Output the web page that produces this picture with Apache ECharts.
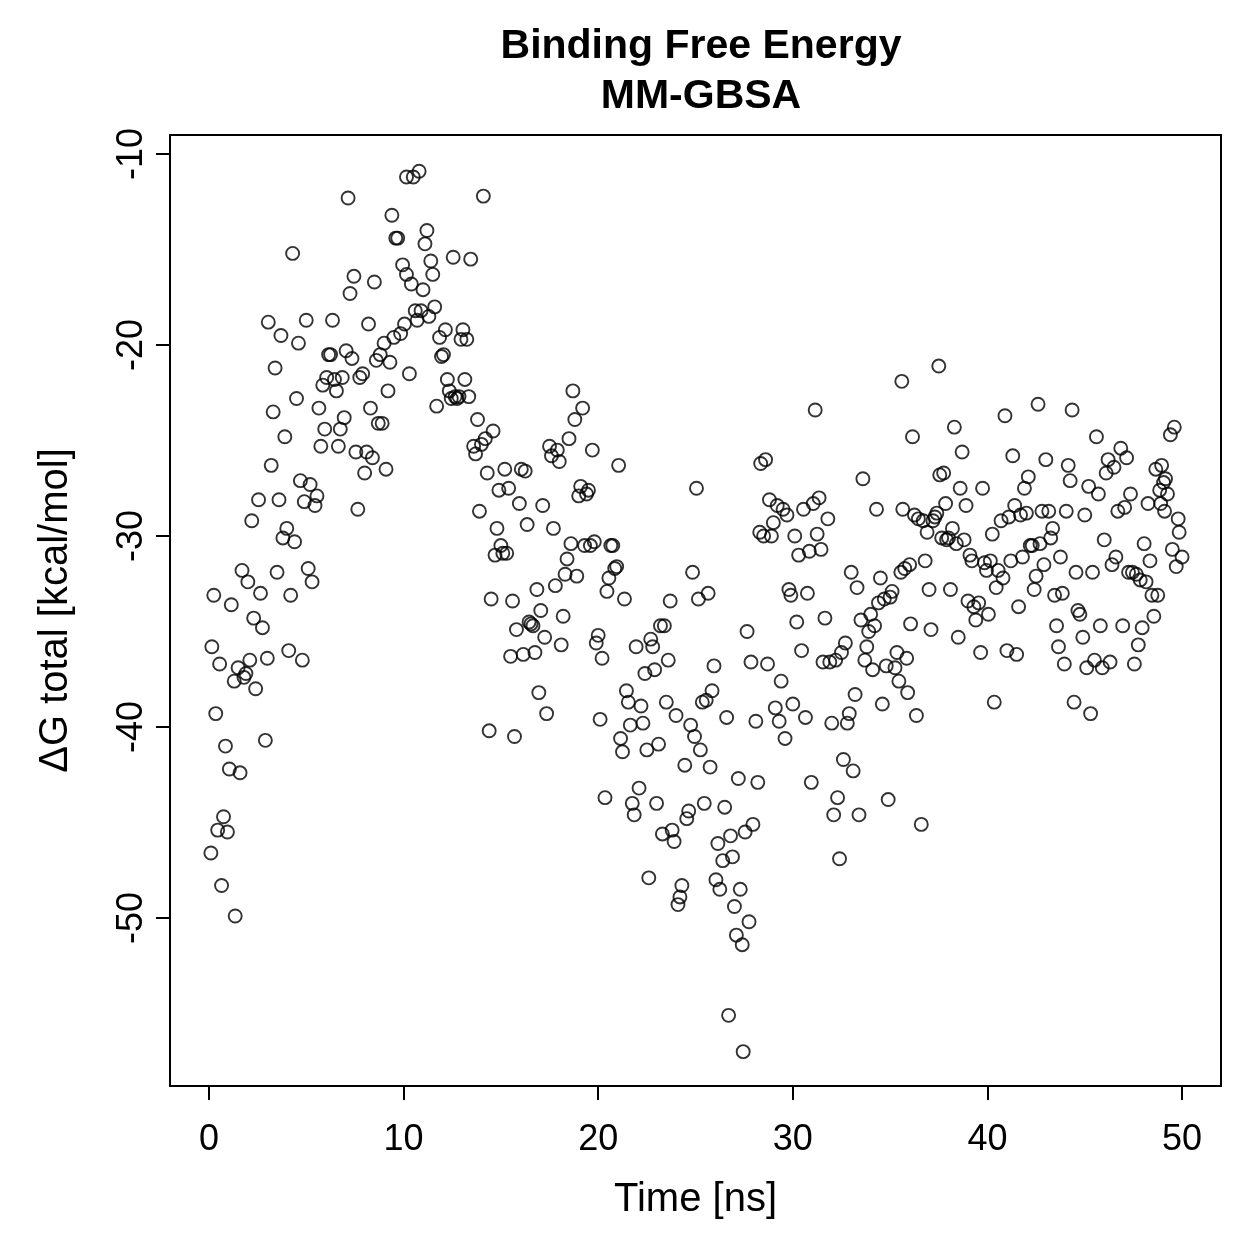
<!DOCTYPE html>
<html>
<head>
<meta charset="utf-8">
<script src="https://cdn.jsdelivr.net/npm/echarts@6/dist/echarts.min.js"></script>
<style>
  html, body { margin: 0; padding: 0; background: #fff; }
  #main { width: 1259px; height: 1259px; }
</style>
</head>
<body>
<div id="main"></div>
<script>
// values
const timeNs = [
  0.1, 0.15, 0.25, 0.35, 0.45, 0.55, 0.65, 0.75, 0.85, 0.95, 1.05, 1.15, 1.3, 1.35, 1.5, 1.6, 1.7, 1.8, 1.9, 2.0,
  2.1, 2.2, 2.3, 2.4, 2.55, 2.65, 2.75, 2.9, 3.0, 3.05, 3.2, 3.3, 3.4, 3.5, 3.6, 3.7, 3.8, 3.9, 4.0, 4.1,
  4.2, 4.3, 4.4, 4.5, 4.6, 4.7, 4.8, 4.9, 5.0, 5.1, 5.2, 5.3, 5.45, 5.55, 5.65, 5.75, 5.85, 5.95, 6.05, 6.15,
  6.25, 6.35, 6.45, 6.55, 6.65, 6.75, 6.85, 6.95, 7.05, 7.15, 7.25, 7.35, 7.45, 7.55, 7.65, 7.75, 7.9, 8.0, 8.1, 8.2,
  8.3, 8.4, 8.5, 8.6, 8.7, 8.8, 8.9, 9.0, 9.1, 9.2, 9.3, 9.4, 9.5, 9.6, 9.7, 9.85, 9.95, 10.05, 10.15, 10.15,
  10.3, 10.4, 10.5, 10.6, 10.7, 10.8, 10.9, 11.0, 11.1, 11.2, 11.3, 11.4, 11.5, 11.6, 11.7, 11.85, 11.95, 12.05, 12.15, 12.25,
  12.35, 12.45, 12.55, 12.65, 12.75, 12.85, 12.95, 13.05, 13.15, 13.25, 13.35, 13.45, 13.6, 13.7, 13.8, 13.9, 14.0, 14.1, 14.2, 14.3,
  14.4, 14.5, 14.6, 14.7, 14.8, 14.9, 15.0, 15.1, 15.2, 15.3, 15.4, 15.5, 15.6, 15.7, 15.8, 15.95, 16.05, 16.15, 16.25, 16.35,
  16.45, 16.55, 16.65, 16.75, 16.85, 16.95, 17.05, 17.15, 17.25, 17.35, 17.5, 17.6, 17.7, 17.8, 17.9, 18.0, 18.1, 18.2, 18.3, 18.4,
  18.5, 18.6, 18.7, 18.8, 18.9, 19.0, 19.1, 19.2, 19.3, 19.4, 19.5, 19.6, 19.7, 19.8, 19.9, 20.0, 20.1, 20.2, 20.35, 20.45,
  20.55, 20.65, 20.75, 20.85, 20.95, 21.05, 21.15, 21.25, 21.35, 21.45, 21.55, 21.65, 21.75, 21.85, 21.95, 22.1, 22.2, 22.3, 22.4, 22.5,
  22.6, 22.7, 22.8, 22.9, 23.0, 23.1, 23.2, 23.3, 23.4, 23.5, 23.6, 23.7, 23.8, 23.9, 24.0, 24.1, 24.2, 24.3, 24.45, 24.55,
  24.65, 24.75, 24.85, 24.95, 25.05, 25.15, 25.25, 25.35, 25.45, 25.55, 25.65, 25.75, 25.85, 25.95, 26.05, 26.15, 26.25, 26.4, 26.5, 26.6,
  26.7, 26.8, 26.9, 27.0, 27.1, 27.2, 27.3, 27.4, 27.45, 27.55, 27.65, 27.75, 27.85, 27.95, 28.1, 28.2, 28.3, 28.35, 28.5, 28.6,
  28.7, 28.8, 28.9, 29.0, 29.1, 29.2, 29.3, 29.4, 29.5, 29.6, 29.7, 29.8, 29.9, 30.0, 30.1, 30.2, 30.3, 30.45, 30.55, 30.65,
  30.75, 30.85, 30.95, 31.05, 31.15, 31.25, 31.35, 31.45, 31.55, 31.65, 31.8, 31.9, 32.0, 32.1, 32.2, 32.3, 32.4, 32.5, 32.6, 32.7,
  32.8, 32.9, 33.0, 33.1, 33.2, 33.3, 33.4, 33.5, 33.6, 33.7, 33.8, 33.9, 34.0, 34.1, 34.2, 34.3, 34.4, 34.5, 34.6, 34.7,
  34.8, 34.9, 35.0, 35.1, 35.25, 35.35, 35.45, 35.55, 35.6, 35.65, 35.75, 35.85, 35.9, 36.0, 36.05, 36.15, 36.25, 36.35, 36.45, 36.6,
  36.7, 36.8, 36.9, 37.0, 37.1, 37.2, 37.3, 37.4, 37.5, 37.55, 37.65, 37.75, 37.85, 37.9, 38.0, 38.1, 38.2, 38.3, 38.4, 38.5,
  38.6, 38.7, 38.8, 38.9, 39.0, 39.1, 39.2, 39.3, 39.4, 39.55, 39.65, 39.75, 39.85, 39.95, 40.05, 40.15, 40.25, 40.35, 40.45, 40.55,
  40.7, 40.8, 40.9, 41.0, 41.1, 41.2, 41.3, 41.4, 41.5, 41.6, 41.7, 41.8, 41.9, 42.0, 42.1, 42.2, 42.3, 42.4, 42.5, 42.6,
  42.7, 42.8, 42.9, 43.0, 43.15, 43.25, 43.35, 43.45, 43.55, 43.65, 43.75, 43.85, 43.95, 44.05, 44.15, 44.25, 44.35, 44.45, 44.55, 44.65,
  44.75, 44.9, 45.0, 45.1, 45.2, 45.3, 45.4, 45.5, 45.6, 45.7, 45.8, 45.9, 46.0, 46.1, 46.2, 46.3, 46.4, 46.5, 46.6, 46.7,
  46.85, 46.95, 47.05, 47.15, 47.25, 47.35, 47.45, 47.55, 47.65, 47.75, 47.85, 47.95, 48.05, 48.15, 48.25, 48.35, 48.45, 48.55, 48.65, 48.75,
  48.85, 48.9, 48.95, 49.05, 49.1, 49.15, 49.25, 49.4, 49.5, 49.6, 49.7, 49.8, 49.85, 50.0
];
const dGtotal = [
  -46.6, -35.8, -33.1, -39.3, -45.4, -36.7, -48.3, -44.7, -41.0, -45.5, -42.2, -33.6, -37.6, -49.9, -36.9, -42.4, -31.8, -37.4, -37.2, -32.4,
  -36.5, -29.2, -34.3, -38.0, -28.1, -33.0, -34.8, -40.7, -36.4, -18.8, -26.3, -23.5, -21.2, -31.9, -28.1, -19.5, -30.1, -24.8, -29.6, -36.0,
  -33.1, -15.2, -30.3, -22.8, -19.9, -27.1, -36.5, -28.2, -18.7, -31.7, -27.3, -32.4, -28.4, -27.9, -23.3, -25.3, -22.1, -24.4, -21.7, -20.5,
  -20.5, -18.7, -21.8, -22.4, -25.3, -24.4, -21.7, -23.8, -20.3, -12.3, -17.3, -20.7, -16.4, -25.6, -28.6, -21.7, -21.5, -26.7, -25.6, -18.9,
  -23.3, -25.9, -16.7, -20.8, -24.1, -20.5, -24.1, -19.9, -26.5, -22.4, -20.9, -13.2, -19.6, -14.4, -14.4, -19.4, -15.8, -18.9, -16.3, -11.2,
  -21.5, -16.8, -11.2, -18.2, -18.7, -10.9, -18.2, -17.1, -14.7, -14.0, -18.5, -15.6, -16.3, -18.0, -23.2, -19.6, -20.6, -20.5, -19.2, -21.8,
  -22.4, -22.8, -15.4, -22.7, -22.8, -22.7, -19.7, -19.2, -21.8, -19.7, -22.7, -15.5, -25.3, -25.7, -23.9, -28.7, -25.2, -12.2, -24.9, -26.7,
  -40.2, -33.3, -24.5, -31.0, -29.6, -27.6, -30.5, -30.9, -26.5, -30.9, -27.5, -36.3, -33.4, -40.5, -34.9, -28.3, -26.5, -36.2, -26.6, -29.4,
  -34.5, -34.6, -34.7, -36.1, -32.8, -38.2, -33.9, -28.4, -35.3, -39.3, -25.3, -25.8, -29.6, -32.6, -25.5, -26.1, -35.7, -34.2, -32.0, -31.2,
  -24.9, -30.4, -22.4, -23.9, -32.1, -27.9, -27.4, -23.3, -30.5, -27.8, -27.6, -30.5, -25.5, -30.3, -35.6, -35.2, -39.6, -36.4, -43.7, -32.9,
  -32.2, -30.5, -30.5, -31.7, -31.6, -26.3, -40.6, -41.3, -33.3, -38.1, -38.7, -39.9, -44.0, -44.6, -35.8, -43.2, -38.9, -39.8, -37.2, -41.2,
  -47.9, -35.4, -35.8, -37.0, -44.0, -40.9, -34.7, -45.6, -34.7, -38.7, -36.5, -33.4, -45.4, -46.0, -39.4, -49.3, -48.9, -48.3, -42.0, -44.8,
  -44.4, -39.9, -31.9, -40.5, -27.5, -33.3, -41.2, -38.7, -44.0, -38.6, -33.0, -42.1, -38.1, -36.8, -48.0, -46.1, -48.5, -47.0, -44.2, -39.5,
  -55.1, -45.7, -46.8, -49.4, -50.9, -42.7, -48.5, -51.4, -57.0, -45.5, -35.0, -50.2, -36.6, -45.1, -39.7, -42.9, -29.8, -26.2, -30.0, -26.0,
  -36.7, -28.1, -30.0, -29.3, -39.0, -28.4, -39.7, -37.6, -28.6, -40.6, -28.9, -32.8, -33.1, -38.8, -30.0, -34.5, -31.0, -36.0, -28.6, -39.5,
  -33.0, -30.8, -42.9, -28.3, -23.4, -29.9, -28.0, -30.7, -36.6, -34.3, -29.1, -36.6, -39.8, -44.6, -36.5, -43.7, -46.9, -36.1, -41.7, -35.6,
  -39.8, -39.3, -31.9, -42.3, -38.3, -32.7, -44.6, -34.4, -27.0, -36.5, -35.8, -35.0, -34.1, -37.0, -34.7, -28.6, -33.5, -32.2, -38.8, -33.3,
  -36.8, -43.8, -33.2, -32.9, -36.9, -36.1, -37.6, -31.9, -21.9, -28.6, -31.7, -36.4, -38.2, -31.5, -34.6, -24.8, -28.9, -39.4, -29.1, -45.1,
  -29.2, -31.3, -29.8, -32.8, -34.9, -29.2, -29.0, -28.8, -21.1, -26.8, -30.1, -26.7, -28.3, -30.2, -30.1, -32.8, -29.6, -24.3, -30.4, -35.3,
  -27.5, -25.6, -30.2, -28.4, -33.4, -31.0, -31.3, -33.7, -34.4, -33.5, -36.1, -27.5, -31.4, -31.8, -34.1, -31.3, -29.9, -38.7, -32.7, -31.8,
  -29.2, -32.2, -23.7, -36.0, -29.0, -31.3, -25.8, -28.4, -36.2, -33.7, -28.9, -31.1, -27.5, -28.8, -26.9, -30.5, -30.5, -32.8, -32.1, -23.1,
  -30.4, -28.7, -31.5, -26.0, -28.7, -30.1, -29.6, -33.1, -34.7, -35.8, -31.1, -33.0, -36.7, -28.7, -26.3, -27.1, -23.4, -38.7, -31.9, -33.9,
  -34.1, -35.3, -28.9, -36.9, -27.4, -39.3, -31.9, -36.5, -24.8, -27.8, -34.7, -36.9, -30.2, -26.7, -26.0, -36.6, -31.5, -26.4, -31.1, -28.7,
  -25.4, -34.7, -28.5, -25.9, -31.9, -27.8, -31.9, -36.7, -32.0, -35.7, -32.3, -34.8, -30.4, -32.4, -28.3, -31.3, -33.1, -34.2, -26.5, -33.1,
  -27.6, -28.3, -26.3, -27.2, -28.7, -27.0, -27.8, -24.7, -30.7, -24.3, -31.6, -29.1, -29.8, -31.1
];
const xTicks = [0, 10, 20, 30, 40, 50];
const yTicks = [-50, -40, -30, -20, -10];

const points = timeNs.map((t, i) => [t, dGtotal[i]]);

const FONT = '"Liberation Sans", Arial, Helvetica, sans-serif';
const chart = echarts.init(document.getElementById('main'), null, { renderer: 'canvas' });

chart.setOption({
  animation: false,
  backgroundColor: '#ffffff',
  title: {
    text: 'Binding Free Energy\nMM-GBSA',
    left: 696,
    top: 17,
    textAlign: 'center',
    textStyle: {
      fontFamily: FONT,
      fontWeight: 'bold',
      fontSize: 41,
      lineHeight: 50,
      color: '#000'
    }
  },
  grid: {
    left: 170,
    top: 135,
    width: 1051,
    height: 951,
    show: true,
    borderColor: '#000',
    borderWidth: 2,
    backgroundColor: 'transparent'
  },
  xAxis: {
    type: 'value',
    min: -2,
    max: 52,
    name: 'Time [ns]',
    nameLocation: 'middle',
    nameGap: 94,
    nameTextStyle: { fontFamily: FONT, fontSize: 40, color: '#000' },
    axisLine: { show: false, onZero: false },
    splitLine: { show: false },
    axisTick: {
      show: true,
      length: 14,
      customValues: xTicks,
      lineStyle: { color: '#000', width: 2 }
    },
    axisLabel: {
      customValues: xTicks,
      margin: 36,
      fontFamily: FONT,
      fontSize: 36,
      color: '#000'
    }
  },
  yAxis: {
    type: 'value',
    min: -58.8,
    max: -9.0,
    name: 'ΔG total [kcal/mol]',
    nameLocation: 'middle',
    nameRotate: 90,
    nameGap: 94,
    nameTextStyle: { fontFamily: FONT, fontSize: 40, color: '#000' },
    axisLine: { show: false, onZero: false },
    splitLine: { show: false },
    axisTick: {
      show: true,
      length: 14,
      customValues: yTicks,
      lineStyle: { color: '#000', width: 2 }
    },
    axisLabel: {
      customValues: yTicks,
      rotate: 90,
      margin: 20,
      fontFamily: FONT,
      fontSize: 36,
      color: '#000',
      align: 'center',
      verticalAlign: 'bottom'
    }
  },
  series: [{
    type: 'scatter',
    data: points,
    symbol: 'circle',
    symbolSize: 13,
    itemStyle: {
      color: 'rgba(0,0,0,0)',
      borderColor: '#000',
      borderWidth: 1.9
    },
    emphasis: { disabled: true }
  }]
});
</script>
</body>
</html>
